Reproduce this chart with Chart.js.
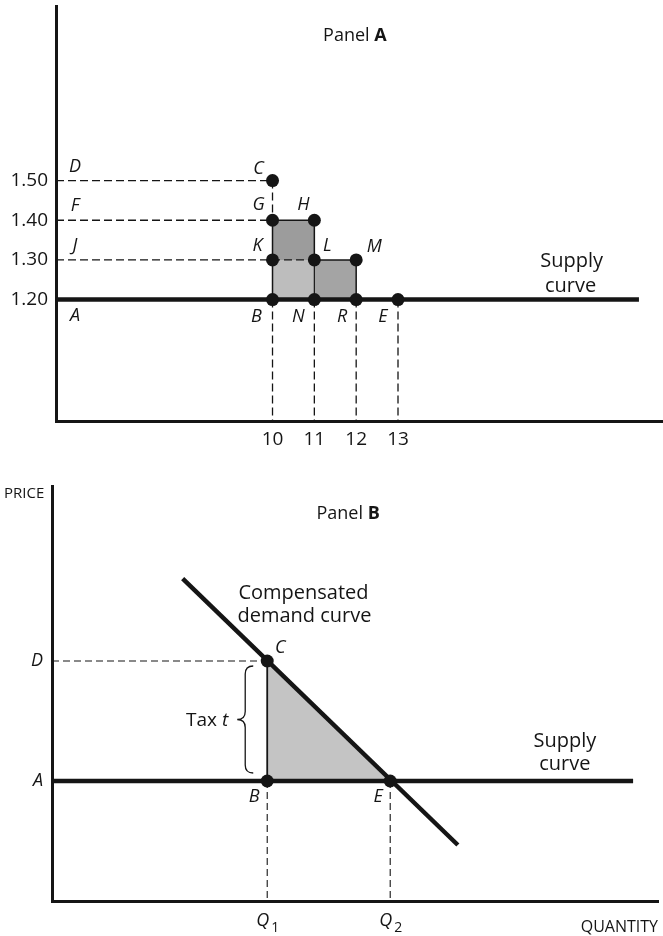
<!DOCTYPE html>
<html><head><meta charset="utf-8">
<script src="https://cdn.jsdelivr.net/npm/chart.js@4.4.1/dist/chart.umd.min.js"></script>
<style>
html,body{margin:0;padding:0;background:#fff;}
#wrap{position:relative;width:663px;height:936px;overflow:hidden;}
#cA{position:absolute;left:0;top:0;}
#cB{position:absolute;left:0;top:470px;}
</style></head><body>
<div id="wrap"><canvas id="cA" width="663" height="470"></canvas><canvas id="cB" width="663" height="466"></canvas></div>
<script>
// ================= DATA =================
// ---- Panel A ----
const aPriceTicks = [1.20, 1.30, 1.40, 1.50];
const aPriceTickLabels = ['1.20', '1.30', '1.40', '1.50'];
const aPriceLetters = ['A', 'J', 'F', 'D'];
const aQtyTicks = [10, 11, 12, 13];
const aQtyTickLabels = ['10', '11', '12', '13'];
const aPointNames = ['C', 'G', 'H', 'K', 'L', 'M', 'B', 'N', 'R', 'E'];
const aPointQty   = [10, 10, 11, 10, 11, 12, 10, 11, 12, 13];
const aPointPrice = [1.50, 1.40, 1.40, 1.30, 1.30, 1.30, 1.20, 1.20, 1.20, 1.20];
const aShadeQtyFrom = [10, 10, 11];
const aShadeQtyTo   = [11, 11, 12];
const aShadeLow     = [1.30, 1.20, 1.20];
const aShadeHigh    = [1.40, 1.30, 1.30];
const aSupplyPrice = 1.20;
const aSupplyEndQty = 18.76;
const aQtyRange = [4.824, 19.335];
const aPriceRange = [0.894, 1.940];

// ---- Panel B ----
const bPriceTicks = [3, 6];
const bPriceTickLabels = ['A', 'D'];
const bQtyTicks = [7, 11];
const bQtyTickLabels = ['Q', 'Q'];
const bQtyTickSubs = ['1', '2'];
const bPointNames = ['C', 'B', 'E'];
const bPointQty   = [7, 7, 11];
const bPointPrice = [6, 3, 3];
const bDemandQty   = [4.25, 13.2];
const bDemandPrice = [8.06, 1.40];
const bSupplyPrice = 3;
const bSupplyEndQty = 18.9;
const bQtyRange = [0, 19.71];
const bPriceRange = [0, 10.375];

// ================= STYLE =================
const FONT = "'Open Sans', 'DejaVu Sans', sans-serif";
const INK = '#151515';
const aShadeColors = ['#9c9c9c', '#bdbdbd', '#a4a4a4'];
const bShadeColor = '#c4c4c4';
const aLetterOffset = {C:[-14,-12], G:[-14,-15], H:[-11,-15], K:[-15,-14], L:[13,-14], M:[18,-13],
                       B:[-16,17], N:[-16,17], R:[-14,17], E:[-15,17]};
const bLetterOffset = {C:[13,-13], B:[-13,16], E:[-12,16]};

function lookup(names, qs, ps) { const m = {}; names.forEach((n, i) => m[n] = {x: qs[i], y: ps[i]}); return m; }
function seg(data, opts) {
  return Object.assign({data, borderColor: INK, borderWidth: 1.3, pointRadius: 0, pointHoverRadius: 0,
    fill: false, tension: 0, order: 20, clip: false}, opts || {});
}

function makeChart(canvas, datasets, sc, plugin) {
  return new Chart(canvas, {
    type: 'line',
    data: {datasets},
    options: {
      responsive: false, animation: false, devicePixelRatio: 1, events: [],
      layout: {padding: sc.padding, autoPadding: false},
      plugins: {legend: {display: false}, tooltip: {enabled: false}},
      scales: {
        x: {type: 'linear', min: sc.xMin, max: sc.xMax, bounds: 'data',
          grid: {display: false, drawTicks: false},
          border: {display: true, color: INK, width: 3},
          ticks: {display: sc.xTickDisplay, autoSkip: false, maxRotation: 0, padding: sc.xPad,
            font: sc.xFont, color: INK, callback: (v, i) => sc.xLabels[i]},
          afterBuildTicks: s => { s.ticks = sc.xTicks.map(v => ({value: v})); },
          afterFit: s => { s.height = sc.xHeight; s.paddingLeft = 0; s.paddingRight = 0; s.paddingTop = 0; s.paddingBottom = 0; }},
        y: {type: 'linear', min: sc.yMin, max: sc.yMax, bounds: 'data',
          grid: {display: false, drawTicks: false},
          border: {display: true, color: INK, width: 3},
          ticks: {autoSkip: false, padding: sc.yPad, font: sc.yFont, color: INK,
            callback: (v, i) => sc.yLabels[i]},
          afterBuildTicks: s => { s.ticks = sc.yTicks.map(v => ({value: v})); },
          afterFit: s => { s.width = sc.yWidth; s.paddingLeft = 0; s.paddingRight = 0; s.paddingTop = 0; s.paddingBottom = 0; }}
      }
    },
    plugins: [plugin]
  });
}

// ================= PANEL A =================
const A = lookup(aPointNames, aPointQty, aPointPrice);
const aX0 = aQtyRange[0], aY0 = aPriceRange[0];
const dashA = {borderDash: [8, 4], borderWidth: 1.3, order: 20};
const aDatasets = [];
aShadeQtyFrom.forEach((q0, i) => aDatasets.push(seg(
  [{x: q0, y: aShadeHigh[i]}, {x: aShadeQtyTo[i], y: aShadeHigh[i]}],
  {fill: {value: aShadeLow[i]}, backgroundColor: aShadeColors[i], borderWidth: 0, borderColor: 'rgba(0,0,0,0)', order: 30})));
aDatasets.push(seg([{x: aX0, y: A.C.y}, A.C], dashA));
aDatasets.push(seg([{x: aX0, y: A.G.y}, A.G], dashA));
aDatasets.push(seg([{x: aX0, y: A.K.y}, A.L], dashA));
aDatasets.push(seg([A.C, A.G], dashA));
['B', 'N', 'R', 'E'].forEach(n => aDatasets.push(seg([A[n], {x: A[n].x, y: aY0}], dashA)));
aDatasets.push(seg([A.G, A.H, A.L, A.M, A.R], {borderWidth: 1.5, order: 15}));
aDatasets.push(seg([A.G, A.B], {borderWidth: 1.5, order: 15}));
aDatasets.push(seg([A.L, A.N], {borderWidth: 1.2, order: 15}));
aDatasets.push(seg([{x: aX0, y: aSupplyPrice}, {x: aSupplyEndQty, y: aSupplyPrice}], {borderWidth: 4.5, order: 10}));
aDatasets.push(seg(aPointNames.map(n => A[n]), {showLine: false, pointRadius: 6.5, pointHoverRadius: 6.5,
  pointBackgroundColor: INK, pointBorderWidth: 0, order: 0}));

const annotA = {
  id: 'annotA',
  afterDraw(chart) {
    const ctx = chart.ctx, xs = chart.scales.x, ys = chart.scales.y, ca = chart.chartArea;
    ctx.save();
    ctx.fillStyle = INK;
    ctx.textAlign = 'center'; ctx.textBaseline = 'middle';
    ctx.font = `italic 18px ${FONT}`;
    aPointNames.forEach((n, i) => {
      const o = aLetterOffset[n];
      ctx.fillText(n, xs.getPixelForValue(aPointQty[i]) + o[0], ys.getPixelForValue(aPointPrice[i]) + o[1]);
    });
    aPriceLetters.forEach((n, i) => {
      const dy = aPriceTicks[i] === aSupplyPrice ? 16 : -14;
      ctx.fillText(n, ca.left + 19, ys.getPixelForValue(aPriceTicks[i]) + dy);
    });
    // Supply curve label
    ctx.textBaseline = 'alphabetic';
    ctx.font = `20px ${FONT}`;
    const sx = xs.getPixelForValue(17.15), sy = ys.getPixelForValue(1.282);
    ctx.fillText('Supply', sx, sy);
    ctx.fillText('curve', sx - 1, sy + 25);
    // Panel A title
    const px = xs.getPixelForValue(11.97), py = ys.getPixelForValue(1.852);
    ctx.font = `18px ${FONT}`;
    const w1 = ctx.measureText('Panel ').width;
    ctx.font = `bold 18px ${FONT}`;
    const w2 = ctx.measureText('A').width;
    ctx.textAlign = 'left';
    ctx.font = `18px ${FONT}`;
    ctx.fillText('Panel ', px - (w1 + w2) / 2, py);
    ctx.font = `bold 18px ${FONT}`;
    ctx.fillText('A', px - (w1 + w2) / 2 + w1, py);
    ctx.restore();
  }
};

makeChart(document.getElementById('cA'), aDatasets, {
  padding: {top: 6, right: 0, left: 0, bottom: 0},
  xMin: aQtyRange[0], xMax: aQtyRange[1], yMin: aPriceRange[0], yMax: aPriceRange[1],
  xTicks: aQtyTicks, xLabels: aQtyTickLabels, yTicks: aPriceTicks, yLabels: aPriceTickLabels,
  xTickDisplay: true, xPad: 7, yPad: 8, xFont: {family: FONT, size: 19}, yFont: {family: FONT, size: 19},
  xHeight: 49, yWidth: 56
}, annotA);

// ================= PANEL B =================
const B = lookup(bPointNames, bPointQty, bPointPrice);
const dashB = {borderDash: [7, 4], borderWidth: 1.1, order: 20};
const bDatasets = [];
bDatasets.push(seg([B.C, B.E], {fill: {value: bSupplyPrice}, backgroundColor: bShadeColor, borderWidth: 0,
  borderColor: 'rgba(0,0,0,0)', order: 30}));
bDatasets.push(seg([{x: bQtyRange[0], y: B.C.y}, B.C], dashB));
bDatasets.push(seg([B.B, {x: B.B.x, y: bPriceRange[0]}], dashB));
bDatasets.push(seg([B.E, {x: B.E.x, y: bPriceRange[0]}], dashB));
bDatasets.push(seg([B.C, B.B], {borderWidth: 1.8, order: 15}));
bDatasets.push(seg(bDemandQty.map((q, i) => ({x: q, y: bDemandPrice[i]})), {borderWidth: 4.5, order: 10}));
bDatasets.push(seg([{x: bQtyRange[0], y: bSupplyPrice}, {x: bSupplyEndQty, y: bSupplyPrice}], {borderWidth: 4.5, order: 10}));
bDatasets.push(seg(bPointNames.map(n => B[n]), {showLine: false, pointRadius: 6.5, pointHoverRadius: 6.5,
  pointBackgroundColor: INK, pointBorderWidth: 0, order: 0}));

const annotB = {
  id: 'annotB',
  afterDraw(chart) {
    const ctx = chart.ctx, xs = chart.scales.x, ys = chart.scales.y, ca = chart.chartArea;
    ctx.save();
    ctx.fillStyle = INK; ctx.strokeStyle = INK;
    ctx.textAlign = 'center'; ctx.textBaseline = 'middle';
    ctx.font = `italic 18px ${FONT}`;
    bPointNames.forEach((n, i) => {
      const o = bLetterOffset[n];
      ctx.fillText(n, xs.getPixelForValue(bPointQty[i]) + o[0], ys.getPixelForValue(bPointPrice[i]) + o[1]);
    });
    // Q tick labels
    ctx.textBaseline = 'alphabetic';
    bQtyTicks.forEach((q, i) => {
      const x = xs.getPixelForValue(q);
      ctx.font = `italic 18px ${FONT}`; ctx.textAlign = 'right';
      ctx.fillText(bQtyTickLabels[i], x + 2, ca.bottom + 25);
      ctx.font = `14px ${FONT}`; ctx.textAlign = 'left';
      ctx.fillText(bQtyTickSubs[i], x + 4, ca.bottom + 31);
    });
    // axis titles
    ctx.font = `15px ${FONT}`; ctx.textAlign = 'left';
    ctx.fillText('PRICE', 4, ca.top + 12);
    ctx.font = `16px ${FONT}`; ctx.textAlign = 'right';
    ctx.fillText('QUANTITY', ca.right, ca.bottom + 31);
    // Curve labels
    ctx.font = `20px ${FONT}`; ctx.textAlign = 'center';
    let x = xs.getPixelForValue(8.18), y = ys.getPixelForValue(7.55);
    ctx.fillText('Compensated', x, y);
    ctx.fillText('demand curve', x + 1, y + 23);
    x = xs.getPixelForValue(16.68); y = ys.getPixelForValue(3.85);
    ctx.fillText('Supply', x, y);
    ctx.fillText('curve', x, y + 23);
    // Panel B title
    const px = xs.getPixelForValue(9.63), py = ys.getPixelForValue(9.55);
    ctx.font = `18px ${FONT}`;
    const w1 = ctx.measureText('Panel ').width;
    ctx.font = `bold 18px ${FONT}`;
    const w2 = ctx.measureText('B').width;
    ctx.textAlign = 'left';
    ctx.font = `18px ${FONT}`;
    ctx.fillText('Panel ', px - (w1 + w2) / 2, py);
    ctx.font = `bold 18px ${FONT}`;
    ctx.fillText('B', px - (w1 + w2) / 2 + w1, py);
    // Tax brace
    const bx = xs.getPixelForValue(B.C.x);
    const yTop = ys.getPixelForValue(B.C.y) + 5, yBot = ys.getPixelForValue(B.B.y) - 8;
    const yMid = (yTop + yBot) / 2;
    const tipX = bx - 14, spineX = bx - 22, cuspX = bx - 30, r = 8;
    ctx.lineWidth = 1.3;
    ctx.beginPath();
    ctx.moveTo(tipX, yTop);
    ctx.quadraticCurveTo(spineX, yTop, spineX, yTop + r);
    ctx.lineTo(spineX, yMid - r);
    ctx.quadraticCurveTo(spineX, yMid, cuspX, yMid);
    ctx.quadraticCurveTo(spineX, yMid, spineX, yMid + r);
    ctx.lineTo(spineX, yBot - r);
    ctx.quadraticCurveTo(spineX, yBot, tipX, yBot);
    ctx.stroke();
    // Tax t
    ctx.font = `italic 19px ${FONT}`; ctx.textAlign = 'right';
    const tw = ctx.measureText('t').width;
    ctx.fillText('t', cuspX - 9, yMid + 6);
    ctx.font = `19px ${FONT}`;
    ctx.fillText('Tax ', cuspX - 9 - tw, yMid + 6);
    ctx.restore();
  }
};

makeChart(document.getElementById('cB'), bDatasets, {
  padding: {top: 16, right: 5, left: 0, bottom: 0},
  xMin: bQtyRange[0], xMax: bQtyRange[1], yMin: bPriceRange[0], yMax: bPriceRange[1],
  xTicks: bQtyTicks, xLabels: bQtyTickLabels, yTicks: bPriceTicks, yLabels: bPriceTickLabels,
  xTickDisplay: false, xPad: 7, yPad: 9, xFont: {family: FONT, size: 18}, yFont: {family: FONT, size: 18, style: 'italic'},
  xHeight: 35, yWidth: 52
}, annotB);
</script>
</body></html>
